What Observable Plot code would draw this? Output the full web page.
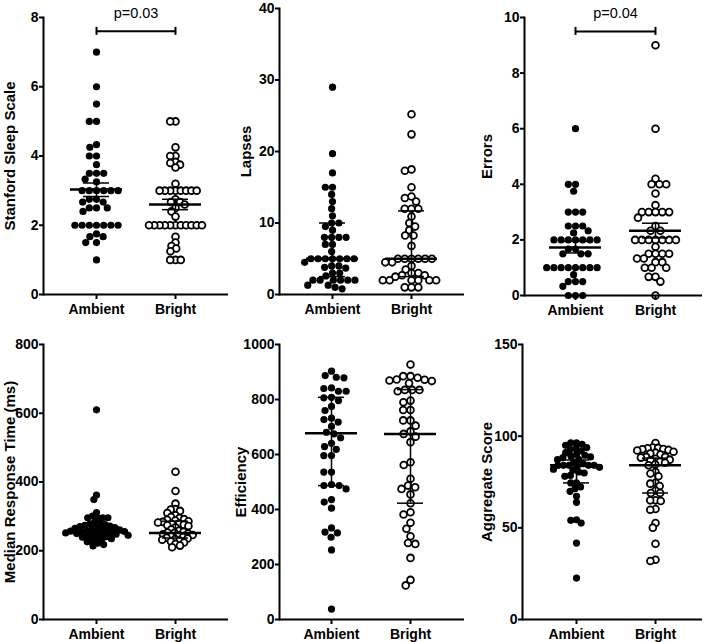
<!DOCTYPE html>
<html>
<head>
<meta charset="utf-8">
<script src="https://cdn.jsdelivr.net/npm/d3@7"></script>
<script src="https://cdn.jsdelivr.net/npm/@observablehq/plot@0.6"></script>
<style>
  html, body { margin: 0; padding: 0; background: #fff; }
  #root { position: relative; width: 709px; height: 642px; overflow: hidden; background: #fff; }
</style>
</head>
<body>
<div id="root"></div>
<script>
// ---------- data ----------
const groups = ["Ambient", "Bright"];

const sssAmbient = [7, 6, 5.5, 5, 5, 4.33, 4.25, 4, 4, 3.75, 3.5, 3.5, 3.5, 3.33, 3.25, 3, 3, 3, 3, 3, 3, 2.75, 2.75, 2.67, 2.67, 2.5, 2.5, 2.5, 2.4, 2, 2, 2, 2, 2, 2, 2, 1.75, 1.67, 1.67, 1.5, 1.5, 1];
const sssBright = [5, 5, 4.25, 4, 4, 3.83, 3.8, 3.75, 3.67, 3.2, 3, 3, 3, 3, 3, 3, 3, 3, 2.75, 2.67, 2.67, 2.6, 2.5, 2.4, 2.25, 2, 2, 2, 2, 2, 2, 2, 2, 2, 2, 2, 1.67, 1.5, 1.4, 1.33, 1.25, 1, 1, 1];
const sssStats = [[3.03, 2.83, 3.22], [2.60, 2.45, 2.75]]; // mean, lower, upper

const lapsesAmbient = [29, 19.7, 17, 15, 15, 14, 13, 12, 11, 10, 10, 9.5, 9, 8, 8, 8, 8, 7, 7, 6, 5, 5, 5, 5, 5, 5, 5, 4.5, 4, 4, 3.8, 3.7, 3, 3, 2.6, 2, 2, 2, 2, 2, 2, 1.3, 1.3, 1, 0.8];
const lapsesBright = [25.2, 22.4, 17.5, 17.3, 15, 13.7, 13.5, 13, 12, 12, 12, 10.9, 10, 9.5, 9, 8.25, 8.25, 6.8, 5, 5, 5, 5, 5, 5, 4.5, 4.5, 4, 3.5, 3, 3, 2.7, 2.7, 2.5, 2, 2, 2, 2, 2, 2, 1, 1, 1];
const lapsesStats = [[5, 2.5, 10], [5, 2.5, 11.7]]; // median, lower, upper

const errorsAmbient = [6, 4, 4, 3.75, 3, 3, 3, 2.5, 2.5, 2.5, 2.33, 2.25, 2, 2, 2, 2, 2, 2, 2, 1.67, 1.67, 1.5, 1.5, 1.5, 1, 1, 1, 1, 1, 1, 1, 1, 0.75, 0.5, 0.5, 0.5, 0.33, 0, 0, 0];
const errorsBright = [9, 6, 4.2, 4, 4, 4, 3.67, 3.25, 3, 3, 3, 3, 3, 2.8, 2.5, 2.33, 2.33, 2, 2, 2, 2, 2, 2, 2, 1.75, 1.5, 1.5, 1.5, 1.5, 1.33, 1.33, 1.2, 1.2, 1, 1, 1, 0.67, 0.67, 0.5, 0];
const errorsStats = [[1.73, 1.53, 1.95], [2.33, 2.07, 2.6]];

const rtAmbient = [610, 362, 349, 311, 301, 296, 296, 296, 296, 283, 280, 278, 276, 274, 272, 270, 268, 267, 265, 264, 262, 261, 260, 258, 257, 256, 255, 254, 253, 252, 250, 249, 248, 246, 245, 243, 241, 239, 237, 235, 232, 229, 226, 222, 218, 214];
const rtBright = [430, 374, 337, 321, 320, 316, 310, 303, 298, 295, 292, 290, 288, 286, 284, 282, 280, 278, 276, 274, 272, 268, 262, 258, 255, 253, 252, 250, 248, 246, 244, 242, 240, 238, 236, 234, 232, 230, 227, 224, 220, 215, 210];
const rtStats = [[254, 242, 279], [252, 237, 286]];

const effAmbient = [903, 887, 881, 879, 875, 865, 842, 840, 830, 830, 808, 806, 796, 775, 760, 732, 727, 718, 702, 681, 675, 661, 641, 629, 619, 596, 596, 536, 536, 491, 487, 487, 475, 436, 427, 405, 333, 318, 315, 299, 253, 38];
const effBright = [927, 885, 885, 879, 873, 872, 869, 867, 859, 835, 835, 835, 830, 796, 790, 762, 762, 724, 724, 705, 684, 675, 665, 645, 572, 562, 512, 487, 481, 475, 455, 423, 390, 382, 352, 330, 303, 278, 275, 224, 144, 124];
const effStats = [[677, 487, 808], [675, 423, 836]];

const aggAmbient = [96.3, 96.3, 95.6, 95, 93.8, 93.2, 92.7, 91.9, 91, 90, 89.6, 89, 88.7, 88.3, 87.2, 87.2, 86, 85, 84.1, 84.1, 84.1, 84.1, 84, 83.5, 83, 82, 81.4, 80.5, 79.9, 78.6, 78.1, 74.5, 74.5, 72.3, 71.4, 69.9, 67.2, 63.9, 54.4, 54.1, 52.6, 41.7, 22.6];
const aggBright = [96.3, 93.8, 93.6, 93.4, 93, 92.8, 92.5, 92.2, 91.5, 91, 90.5, 90, 88.7, 88.7, 88.3, 87.7, 87.2, 86.8, 86, 85.5, 84.6, 84.1, 80.5, 79.6, 78.1, 74.6, 74.1, 72.8, 70.4, 69, 69, 65, 65, 64.6, 60.3, 59.9, 52.6, 50.1, 41.3, 32.6, 31.9];
const aggStats = [[84.1, 74.5, 87], [84.1, 69, 88]];

const yLabels = ["Stanford Sleep Scale", "Lapses", "Errors", "Median Response Time (ms)", "Efficiency", "Aggregate Score"];
const yDomains = [[0, 8], [0, 40], [0, 10], [0, 800], [0, 1000], [0, 150]];
const yTicks = [[0, 2, 4, 6, 8], [0, 10, 20, 30, 40], [0, 2, 4, 6, 8, 10], [0, 200, 400, 600, 800], [0, 200, 400, 600, 800, 1000], [0, 50, 100, 150]];
const pLabels = ["p=0.03", null, "p=0.04", null, null, null];
const pBracketY = [7.6, null, 9.5, null, null, null];

// ---------- layout ----------
const layout = [
  {left: 0,   top: 0,   w: 236, h: 320, ml: 43, mr: 8, mt: 17, mb: 26, gx: [96, 175],  labelDx: -33, padA: 0,    padB: -1.5},
  {left: 236, top: 0,   w: 236, h: 320, ml: 43, mr: 8, mt: 8,  mb: 26, gx: [332, 411], labelDx: -33, padA: 0,    padB: 0},
  {left: 472, top: 0,   w: 237, h: 320, ml: 52, mr: 7, mt: 17, mb: 25, gx: [575, 655], labelDx: -37, padA: 0,    padB: 0},
  {left: 0,   top: 320, w: 236, h: 322, ml: 43, mr: 8, mt: 24, mb: 23, gx: [96, 175],  labelDx: -33, padA: -2,   padB: -2},
  {left: 236, top: 320, w: 236, h: 322, ml: 43, mr: 8, mt: 24, mb: 23, gx: [331, 410], labelDx: -38, padA: 0.5,  padB: 0.5},
  {left: 472, top: 320, w: 237, h: 322, ml: 50, mr: 7, mt: 24, mb: 23, gx: [576, 655], labelDx: -35, padA: -1.5, padB: -1.5}
];
const series = [
  [sssAmbient, sssBright, sssStats],
  [lapsesAmbient, lapsesBright, lapsesStats],
  [errorsAmbient, errorsBright, errorsStats],
  [rtAmbient, rtBright, rtStats],
  [effAmbient, effBright, effStats],
  [aggAmbient, aggBright, aggStats]
];

const FONT = "'Liberation Sans', Arial, Helvetica, sans-serif";
const root = document.getElementById("root");

layout.forEach((L, i) => {
  const [amb, bri, stats] = series[i];
  const fc = (L.ml + L.w - L.mr) / 2;           // frame centre (svg px)
  const ax = L.gx[0] - L.left, bx = L.gx[1] - L.left;
  const sumRows = groups.map((g, k) => ({group: g, center: stats[k][0], lo: stats[k][1], hi: stats[k][2]}));

  const marks = [
    Plot.dot(amb, Plot.dodgeX({anchor: "middle", y: d => d, r: 3.6, padding: L.padA, fill: "black", stroke: null, dx: ax - fc})),
    Plot.dot(bri, Plot.dodgeX({anchor: "middle", y: d => d, r: 3.4, padding: L.padB, fill: "white", stroke: "black", strokeWidth: 1.8, dx: bx - fc})),
    Plot.ruleX(sumRows, {x: "group", y1: "lo", y2: "hi", strokeWidth: 1.5}),
    Plot.ruleY(sumRows, {x1: "group", x2: "group", y: "lo", strokeWidth: 1.5, insetLeft: -13, insetRight: -13}),
    Plot.ruleY(sumRows, {x1: "group", x2: "group", y: "hi", strokeWidth: 1.5, insetLeft: -13, insetRight: -13}),
    Plot.ruleY(sumRows, {x1: "group", x2: "group", y: "center", strokeWidth: 2.5, insetLeft: -26, insetRight: -26}),
    Plot.ruleY([0], {strokeWidth: 2}),
    Plot.frame({anchor: "left", strokeWidth: 2}),
    Plot.axisY({ticks: yTicks[i], tickFormat: d => String(d), tickSize: 4, tickPadding: 1, strokeWidth: 2, label: null, fontSize: 14, fontWeight: "bold"}),
    Plot.axisX({tickSize: 5, tickPadding: 5, strokeWidth: 2, label: null, fontSize: 14, fontWeight: "bold"}),
    Plot.text([yLabels[i]], {text: d => d, frameAnchor: "left", textAnchor: "middle", dx: L.labelDx, rotate: -90, fontSize: 15, fontWeight: "bold"})
  ];
  if (pLabels[i]) {
    const br = groups.map(g => ({g, y: pBracketY[i]}));
    const mid = (ax + bx) / 2 - fc;
    marks.push(
      Plot.ruleY([{a: groups[0], b: groups[1], y: pBracketY[i]}], {x1: "a", x2: "b", y: "y", strokeWidth: 2}),
      Plot.ruleX(br, {x: "g", y1: "y", y2: "y", insetTop: -4, insetBottom: -4, strokeWidth: 2}),
      Plot.text([{label: pLabels[i], y: pBracketY[i]}], {y: "y", text: "label", frameAnchor: "middle", dx: mid, dy: -18, fontSize: 14.5, fontWeight: "normal"})
    );
  }

  const svg = Plot.plot({
    width: L.w, height: L.h,
    marginLeft: L.ml, marginRight: L.mr, marginTop: L.mt, marginBottom: L.mb,
    x: {type: "point", domain: groups, range: [ax, bx], padding: 0},
    y: {domain: yDomains[i]},
    style: {fontFamily: FONT, fontWeight: "bold", fontSize: "14px", color: "black", background: "transparent", overflow: "visible"},
    marks
  });
  svg.style.position = "absolute";
  svg.style.left = L.left + "px";
  svg.style.top = L.top + "px";
  root.appendChild(svg);
});
</script>
</body>
</html>
